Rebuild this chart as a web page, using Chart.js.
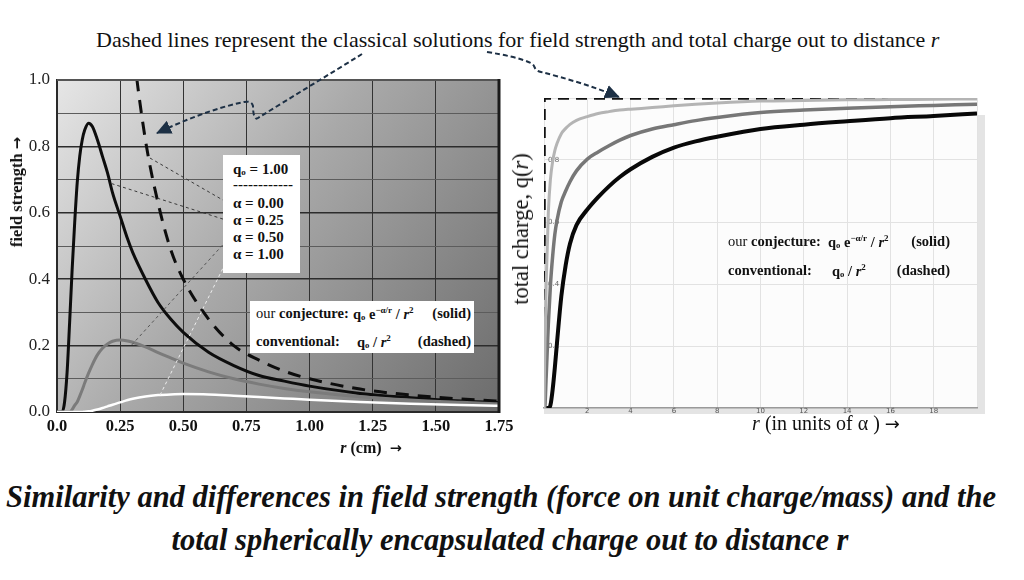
<!DOCTYPE html>
<html>
<head>
<meta charset="utf-8">
<title>Field strength and total charge</title>
<script src="https://cdn.jsdelivr.net/npm/chart.js@4.4.1/dist/chart.umd.min.js"></script>
<style>
  body { margin: 0; width: 1024px; height: 580px; background: #fff; position: relative; overflow: hidden;
         font-family: "Liberation Serif", "Times New Roman", serif; color: #111; }
  .abs { position: absolute; white-space: nowrap; }
  #fieldBox { position: absolute; left: 0; top: 70px; width: 515px; height: 395px; }
  #chargeBox { position: absolute; left: 505px; top: 85px; width: 505px; height: 350px; }
  #topNote { left: 96px; top: 27px; font-size: 22px; line-height: 26px; }
  .caption { width: 1024px; text-align: center; font-weight: bold; font-style: italic; font-size: 30.5px; line-height: 36px; }
  .sub { font-size: 60%; vertical-align: -1px; }
  .sup { font-size: 62%; vertical-align: 6px; }
  .arr { font-family: "DejaVu Sans", sans-serif; font-weight: bold; font-size: 90%; }
  .rot { transform: translate(-50%, -50%) rotate(-90deg); }
  .ctr { transform: translate(-50%, -50%); }
  #alphaBox { left: 223px; top: 155px; width: 77px; height: 118px; background: #fff; }
  #alphaBox div { position: absolute; left: 10px; font-weight: bold; font-size: 15px; line-height: 17px; }
  .formulaBox { background: #fff; font-size: 14.5px; }
  .formulaBox span.t { position: absolute; font-weight: bold; }
</style>
</head>
<body>

<div id="topNote" class="abs">Dashed lines represent the classical solutions for field strength and total charge out to distance <i>r</i></div>

<div id="fieldBox"><canvas id="fieldChart"></canvas></div>
<div id="chargeBox"><canvas id="chargeChart"></canvas></div>

<!-- axis titles -->
<div class="abs rot" style="left:17px; top:192px; font-weight:bold; font-size:16.5px;">field strength <span class="arr">&#8594;</span></div>
<div class="abs ctr" style="left:371px; top:448px; font-weight:bold; font-size:16px;"><i>r</i> (cm) &nbsp;<span class="arr">&#8594;</span></div>
<div class="abs rot" style="left:521px; top:229px; font-size:22.5px;">total charge, q(<i>r</i>)</div>
<div class="abs ctr" style="left:826px; top:423px; font-size:20px;"><i>r</i> (in units of &#945; ) <span class="arr" style="font-weight:normal">&#8594;</span></div>

<!-- left panel labels -->
<div id="alphaBox" class="abs">
  <div style="top:6px;">q<span class="sub">o</span> = 1.00</div>
  <div style="top:21px;">------------</div>
  <div style="top:40px;">&#945; = 0.00</div>
  <div style="top:57px;">&#945; = 0.25</div>
  <div style="top:74px;">&#945; = 0.50</div>
  <div style="top:91px;">&#945; = 1.00</div>
</div>

<div class="abs formulaBox" style="left:250px; top:301px; width:224px; height:52px;">
  <span class="t" style="left:6px; top:4px;"><span style="font-weight:normal">our</span> conjecture:</span>
  <span class="t" style="left:103px; top:4px;">q<span class="sub">o</span> e<span class="sup">&#8722;&#945;/r</span> / <i>r</i><span class="sup">2</span></span>
  <span class="t" style="right:3px; top:4px;">(solid)</span>
  <span class="t" style="left:6px; top:32px;">conventional:</span>
  <span class="t" style="left:107px; top:32px;">q<span class="sub">o</span> / <i>r</i><span class="sup">2</span></span>
  <span class="t" style="right:3px; top:32px;">(dashed)</span>
</div>

<!-- right panel labels -->
<div class="abs formulaBox" style="left:722px; top:230px; width:230px; height:52px; background:transparent;">
  <span class="t" style="left:6px; top:3px;"><span style="font-weight:normal">our</span> conjecture:</span>
  <span class="t" style="left:106px; top:3px;">q<span class="sub">o</span> e<span class="sup">&#8722;&#945;/r</span> / <i>r</i><span class="sup">2</span></span>
  <span class="t" style="right:2px; top:3px;">(solid)</span>
  <span class="t" style="left:6px; top:32px;">conventional:</span>
  <span class="t" style="left:110px; top:32px;">q<span class="sub">o</span> / <i>r</i><span class="sup">2</span></span>
  <span class="t" style="right:2px; top:32px;">(dashed)</span>
</div>

<div class="abs caption" style="left:-11px; top:479px;">Similarity and differences in field strength (force on unit charge/mass) and the</div>
<div class="abs caption" style="left:-2px; top:522px;">total spherically encapsulated charge out to distance r</div>

<!-- callout arrows -->
<svg class="abs" style="left:0; top:0; pointer-events:none;" width="1024" height="580">
  <defs>
    <marker id="ah" markerUnits="userSpaceOnUse" markerWidth="16" markerHeight="14" refX="14" refY="7" orient="auto">
      <path d="M0,0 L15,7 L0,14 Z" fill="#1d3045"/>
    </marker>
  </defs>
  <path d="M 362 54 C 330 74, 290 98, 258 118 C 254 121, 253 112, 253 106 C 252 102, 249 101, 244 102 C 215 108, 185 120, 157 133"
        stroke="#1d3045" stroke-width="2" stroke-dasharray="5 3" fill="none" marker-end="url(#ah)"/>
  <path d="M 487 52 C 505 55, 520 58, 531 63 C 536 66, 533 70, 541 72 C 565 78, 595 87, 619 97"
        stroke="#1d3045" stroke-width="2" stroke-dasharray="5 3" fill="none" marker-end="url(#ah)"/>
</svg>

<script>
// ---- left panel: field strength vs r (cm), q0 = 1.00 ----
const rCm = [0, 0.02, 0.03, 0.04, 0.05, 0.06, 0.07, 0.08, 0.09, 0.10, 0.11, 0.125, 0.14, 0.16, 0.18, 0.20, 0.22,
             0.25, 0.28, 0.30, 0.35, 0.40, 0.45, 0.50, 0.60, 0.70, 0.80, 0.90, 1.00, 1.20, 1.40, 1.60, 1.80];
// alpha = 0.00 (classical, dashed)
const fieldA000 = [null, null, null, null, null, null, null, null, null, null, null, null, null, null, null, null, null,
                   1.60, 1.28, 1.11, 0.82, 0.63, 0.49, 0.40, 0.28, 0.20, 0.156, 0.123, 0.100, 0.069, 0.051, 0.039, 0.031];
// alpha = 0.25 (black)
const fieldA025 = [0, 0.00, 0.03, 0.12, 0.27, 0.43, 0.57, 0.69, 0.77, 0.82, 0.85, 0.87, 0.86, 0.82, 0.77, 0.72, 0.66,
                   0.59, 0.52, 0.48, 0.40, 0.33, 0.28, 0.24, 0.18, 0.14, 0.11, 0.093, 0.078, 0.056, 0.043, 0.033, 0.027];
// alpha = 0.50 (grey)
const fieldA050 = [0, 0, 0, 0, 0.00, 0.007, 0.02, 0.03, 0.048, 0.067, 0.088, 0.117, 0.143, 0.172, 0.192, 0.205, 0.213,
                   0.217, 0.214, 0.210, 0.196, 0.179, 0.163, 0.147, 0.121, 0.100, 0.084, 0.071, 0.061, 0.046, 0.036, 0.029, 0.023];
// alpha = 1.00 (white)
const fieldA100 = [0, 0, 0, 0, 0, 0, 0, 0, 0, 0, 0.001, 0.002, 0.004, 0.0075, 0.012, 0.017, 0.022,
                   0.029, 0.036, 0.040, 0.047, 0.051, 0.053, 0.054, 0.053, 0.049, 0.045, 0.041, 0.037, 0.030, 0.025, 0.021, 0.018];

// ---- right panel: total charge q(r), r in units of alpha ----
const rAlpha = [0, 0.03, 0.1, 0.2, 0.3, 0.4, 0.5, 0.6, 0.8, 1.0, 1.2, 1.5, 2, 2.5, 3, 3.5, 4, 5, 6, 7, 8, 10, 12, 14, 16, 18, 20];
const chargeBlack = [0, 0, 0, 0, 0.01, 0.06, 0.13, 0.21, 0.36, 0.46, 0.53, 0.59, 0.64, 0.68, 0.715, 0.745, 0.77,
                     0.81, 0.84, 0.86, 0.875, 0.90, 0.914, 0.925, 0.935, 0.942, 0.95];
const chargeGrey = [0, 0, 0.10, 0.27, 0.40, 0.49, 0.56, 0.605, 0.665, 0.70, 0.73, 0.765, 0.803, 0.826, 0.846, 0.864, 0.879,
                    0.90, 0.914, 0.927, 0.937, 0.953, 0.961, 0.967, 0.972, 0.976, 0.98];
const chargeLight = [0, 0.15, 0.40, 0.63, 0.74, 0.795, 0.83, 0.853, 0.885, 0.902, 0.915, 0.928, 0.94, 0.95, 0.956, 0.961, 0.964,
                     0.969, 0.975, 0.98, 0.984, 0.99, 0.992, 0.994, 0.995, 0.996, 0.997];
const classicalR = [0, 0, 20];
const classicalQ = [0, 1, 1];

const fieldTicksX = [0, 0.25, 0.5, 0.75, 1.0, 1.25, 1.5, 1.75];

const SERIF = '"Liberation Serif", "Times New Roman", serif';
const pts = (xs, ys) => xs.map((x, i) => ({ x: x, y: ys[i] }));

function curve(xs, ys, color, width, dash) {
    return {
        data: pts(xs, ys),
        showLine: true,
        borderColor: color,
        borderWidth: width,
        borderDash: dash || [],
        pointRadius: 0,
        cubicInterpolationMode: 'monotone',
        fill: false,
        clip: 0
    };
}

// gradient panel, heavy frame and leader lines for the left chart
const fieldPanel = {
    id: 'fieldPanel',
    beforeDraw(chart) {
        const { ctx, chartArea: a } = chart;
        const g = ctx.createLinearGradient(a.left, a.top, a.right, a.bottom);
        g.addColorStop(0, '#e6e6e6');
        g.addColorStop(0.45, '#a9a9a9');
        g.addColorStop(1, '#6c6c6c');
        ctx.save();
        ctx.fillStyle = g;
        ctx.fillRect(a.left, a.top, a.right - a.left, a.bottom - a.top);
        ctx.restore();
    },
    afterDatasetsDraw(chart) {
        const { ctx, chartArea: a, scales: { x, y } } = chart;
        const oy = 70; // canvas top on the page
        const leaders = [
            { from: [0.368, 0.765], to: [228, 203 - oy], color: '#3a3a3a' },
            { from: [0.216, 0.688], to: [229, 221 - oy], color: '#3a3a3a' },
            { from: [0.296, 0.202], to: [229, 238 - oy], color: '#555' },
            { from: [0.408, 0.051], to: [229, 256 - oy], color: '#eeeeee' }
        ];
        ctx.save();
        ctx.lineWidth = 1;
        ctx.setLineDash([3, 3]);
        leaders.forEach(l => {
            ctx.strokeStyle = l.color;
            ctx.beginPath();
            ctx.moveTo(x.getPixelForValue(l.from[0]), y.getPixelForValue(l.from[1]));
            ctx.lineTo(l.to[0], l.to[1]);
            ctx.stroke();
        });
        ctx.setLineDash([]);
        ctx.strokeStyle = '#555';
        ctx.lineWidth = 2;
        ctx.beginPath();
        ctx.moveTo(a.left, a.top);
        ctx.lineTo(a.right, a.top);
        ctx.stroke();
        ctx.strokeStyle = '#1a1a1a';
        ctx.lineWidth = 3;
        ctx.beginPath();
        ctx.moveTo(a.right, a.top - 1);
        ctx.lineTo(a.right, a.bottom + 1);
        ctx.stroke();
        ctx.restore();
    }
};

// white plot with soft drop shadow for the right chart
const chargePanel = {
    id: 'chargePanel',
    beforeDraw(chart) {
        const { ctx, chartArea: a } = chart;
        ctx.save();
        ctx.fillStyle = '#e4e4e4';
        ctx.fillRect(a.right, a.top + 17, 8, a.bottom - a.top - 11);
        ctx.fillRect(a.left, a.bottom, a.right - a.left + 8, 6);
        ctx.fillStyle = '#fcfcfc';
        ctx.fillRect(a.left, a.top, a.right - a.left, a.bottom - a.top);
        ctx.restore();
    }
};

const fieldChart = new Chart(document.getElementById('fieldChart'), {
    type: 'scatter',
    data: {
        datasets: [
            curve(rCm, fieldA100, '#ffffff', 2.5),
            curve(rCm, fieldA050, '#7b7b7b', 3),
            curve(rCm, fieldA025, '#0d0d0d', 3),
            curve(rCm, fieldA000, '#0d0d0d', 3, [13, 9])
        ]
    },
    options: {
        responsive: true,
        maintainAspectRatio: false,
        animation: false,
        layout: { padding: { top: 10, right: 16, left: 0, bottom: 0 } },
        plugins: { legend: { display: false }, tooltip: { enabled: false } },
        scales: {
            x: {
                type: 'linear', min: 0, max: 1.75,
                afterBuildTicks: s => { s.ticks = fieldTicksX.map(v => ({ value: v })); },
                afterFit: s => { s.height = 53; s.paddingLeft = 0; s.paddingRight = 0; },
                ticks: {
                    autoSkip: false, maxRotation: 0, padding: 5, color: '#111',
                    font: { family: SERIF, size: 16.5, weight: 'bold' },
                    callback: v => v === 0 ? '0.0' : v.toFixed(2)
                },
                grid: { color: '#333', lineWidth: 1, drawTicks: false },
                border: { color: '#2a2a2a', width: 2 }
            },
            y: {
                min: 0, max: 1,
                afterFit: s => { s.width = 57; s.paddingTop = 0; s.paddingBottom = 0; },
                ticks: {
                    stepSize: 0.1, autoSkip: false, padding: 7, color: '#222',
                    font: { family: SERIF, size: 17 },
                    callback: v => Math.round(v * 10) % 2 ? '' : v.toFixed(1)
                },
                grid: {
                    drawTicks: false,
                    color: c => Math.round(c.tick.value * 10) % 2 ? '#5c5c5c' : '#2c2c2c',
                    lineWidth: c => Math.round(c.tick.value * 10) % 2 ? 1 : 1.6
                },
                border: { color: '#2a2a2a', width: 2 }
            }
        }
    },
    plugins: [fieldPanel]
});

const classical = curve(classicalR, classicalQ, '#111', 3.5, [11, 7]);
classical.cubicInterpolationMode = 'default';
classical.tension = 0;

const chargeChart = new Chart(document.getElementById('chargeChart'), {
    type: 'scatter',
    data: {
        datasets: [
            curve(rAlpha, chargeLight, '#b4b4b4', 3),
            curve(rAlpha, chargeGrey, '#777777', 3.5),
            curve(rAlpha, chargeBlack, '#080808', 4),
            classical
        ]
    },
    options: {
        responsive: true,
        maintainAspectRatio: false,
        animation: false,
        layout: { padding: { top: 13, right: 33, left: 0, bottom: 0 } },
        plugins: { legend: { display: false }, tooltip: { enabled: false } },
        scales: {
            x: {
                type: 'linear', min: 0, max: 20,
                afterFit: s => { s.height = 27; s.paddingLeft = 0; s.paddingRight = 0; },
                ticks: {
                    stepSize: 2, autoSkip: false, maxRotation: 0, mirror: true, padding: -7, color: '#555',
                    font: { family: '"DejaVu Sans", sans-serif', size: 7 },
                    callback: v => (v === 0 || v === 20) ? '' : String(v)
                },
                grid: { color: '#e2e2e2', lineWidth: 1, drawTicks: false },
                border: { color: '#9a9a9a', width: 1.5 }
            },
            y: {
                min: 0, max: 1,
                afterFit: s => { s.width = 39; s.paddingTop = 0; s.paddingBottom = 0; },
                ticks: {
                    stepSize: 0.2, mirror: true, padding: 4, color: '#666',
                    font: { family: '"DejaVu Sans", sans-serif', size: 7 },
                    callback: v => (v === 0 || v === 1) ? '' : v.toFixed(1)
                },
                grid: { color: '#e2e2e2', lineWidth: 1, drawTicks: false },
                border: { display: false }
            }
        }
    },
    plugins: [chargePanel]
});
</script>
</body>
</html>
